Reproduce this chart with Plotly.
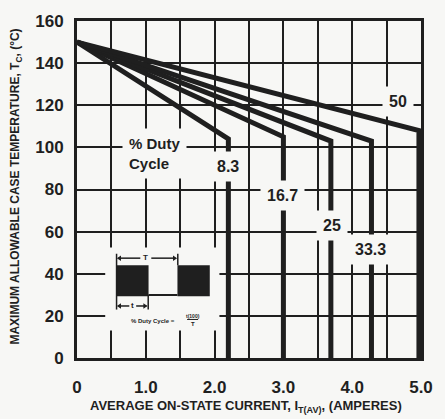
import plotly.graph_objects as go

# ---- data ----
duty_labels = ["8.3", "16.7", "25", "33.3", "50"]
start_temp = 150
knee_current = [2.2, 3.0, 3.69, 4.28, 4.97]
knee_temp = [104, 105, 103, 103, 108]
label_x = [2.2, 2.98, 3.71, 4.27, 4.67]
label_y = [91, 77, 63, 51.6, 122]

x_tickvals = [0, 1.0, 2.0, 3.0, 4.0, 5.0]
x_ticktext = ["0", "1.0", "2.0", "3.0", "4.0", "5.0"]
y_tickvals = [0, 20, 40, 60, 80, 100, 120, 140, 160]

INK = "#1f1f1f"
BG = "#f7f7f5"
FONT = "Liberation Sans"

fig = go.Figure()

for kx, ky in zip(knee_current, knee_temp):
    fig.add_trace(go.Scatter(
        x=[0, kx, kx], y=[start_temp, ky, 0],
        mode="lines", line=dict(color=INK, width=5),
        showlegend=False, hoverinfo="skip"))

annotations = []
for lab, lx, ly in zip(duty_labels, label_x, label_y):
    annotations.append(dict(
        x=lx, y=ly, xref="x", yref="y", text=lab, showarrow=False,
        font=dict(family=FONT, size=16, color=INK, weight="bold"),
        bgcolor=BG, borderpad=6))

# "% Duty Cycle" label
annotations.append(dict(x=0.66, y=97, xref="x", yref="y", text="% Duty<br>Cycle",
                        xanchor="left", align="left", showarrow=False, bgcolor=BG, borderpad=6,
                        font=dict(family=FONT, size=15, color=INK, weight="bold")))

# inset diagram text
small = dict(family=FONT, size=8, color=INK, weight="bold")
annotations.append(dict(x=1.0, y=47.6, xref="x", yref="y", text="T", showarrow=False, font=small))
annotations.append(dict(x=0.81, y=24.9, xref="x", yref="y", text="t", showarrow=False, font=small))
annotations.append(dict(x=1.1, y=17.5, xref="x", yref="y", text="% Duty Cycle =", showarrow=False,
                        font=dict(family=FONT, size=6, color=INK, weight="bold")))
annotations.append(dict(x=1.68, y=20.0, xref="x", yref="y", text="t(100)", showarrow=False,
                        font=dict(family=FONT, size=5, color=INK, weight="bold")))
annotations.append(dict(x=1.68, y=16.2, xref="x", yref="y", text="T", showarrow=False,
                        font=dict(family=FONT, size=6, color=INK, weight="bold")))

# axis titles
annotations.append(dict(x=0.49, y=-0.145, xref="paper", yref="paper",
                        text="AVERAGE ON-STATE CURRENT, I<sub>T(AV)</sub>, (AMPERES)",
                        showarrow=False, yanchor="middle",
                        font=dict(family=FONT, size=13, color=INK, weight="bold")))
annotations.append(dict(x=-0.176, y=0.51, xref="paper", yref="paper", textangle=-90,
                        text="MAXIMUM ALLOWABLE CASE TEMPERATURE, T<sub>C</sub>, (°C)",
                        showarrow=False, xanchor="center", yanchor="middle",
                        font=dict(family=FONT, size=12, color=INK, weight="bold")))


def line(x0, x1, y0, y1, w=1.5):
    return dict(type="line", xref="x", yref="y", x0=x0, x1=x1, y0=y0, y1=y1,
                line=dict(color=INK, width=w), layer="above")


def arrowhead(xtip, y, direction):
    dx, dy = 0.06 * direction, 1.3
    return dict(type="path", xref="x", yref="y",
                path=f"M {xtip} {y} L {xtip - dx} {y + dy} L {xtip - dx} {y - dy} Z",
                fillcolor=INK, line=dict(width=0), layer="above")


shapes = [
    # white box behind inset (covers grid)
    dict(type="rect", xref="x", yref="y", x0=0.41, x1=2.07, y0=13, y1=52.5,
         fillcolor=BG, line=dict(width=0), layer="between"),
    # pulses
    dict(type="rect", xref="x", yref="y", x0=0.57, x1=1.04, y0=29.3, y1=44,
         fillcolor=INK, line=dict(width=0), layer="above"),
    dict(type="rect", xref="x", yref="y", x0=1.46, x1=1.93, y0=29.3, y1=44,
         fillcolor=INK, line=dict(width=0), layer="above"),
    line(1.04, 1.46, 29.9, 29.9, 2),
    line(0.575, 0.575, 23.0, 49.5),
    line(1.035, 1.035, 23.0, 30),
    line(1.465, 1.465, 44, 49.5),
    # T dimension
    line(0.6, 0.92, 47.4, 47.4), line(1.08, 1.43, 47.4, 47.4),
    arrowhead(0.58, 47.4, -1), arrowhead(1.455, 47.4, 1),
    # t dimension
    line(0.6, 0.76, 24.7, 24.7), line(0.86, 1.01, 24.7, 24.7),
    arrowhead(0.58, 24.7, -1), arrowhead(1.025, 24.7, 1),
    # fraction bar
    line(1.6, 1.76, 18.3, 18.3, 1),
]

fig.update_layout(
    width=445, height=419,
    margin=dict(l=77, r=15, t=14, b=61),
    paper_bgcolor=BG, plot_bgcolor=BG,
    showlegend=False,
    annotations=annotations, shapes=shapes,
    xaxis=dict(range=[0, 5], tickvals=x_tickvals, ticktext=x_ticktext,
               showgrid=True, gridcolor=INK, gridwidth=2, zeroline=False,
               minor=dict(tick0=0, dtick=0.5, showgrid=True, gridcolor=INK, gridwidth=2),
               showline=True, linecolor=INK, linewidth=3, mirror=True,
               ticks="", ticklabelstandoff=12,
               tickfont=dict(family=FONT, size=17, color=INK, weight="bold")),
    yaxis=dict(range=[0, 160], tickvals=y_tickvals,
               showgrid=True, gridcolor=INK, gridwidth=2, zeroline=False,
               showline=True, linecolor=INK, linewidth=3, mirror=True,
               ticks="", ticklabelstandoff=7,
               tickfont=dict(family=FONT, size=17, color=INK, weight="bold")),
)

fig.write_html("out.html")
